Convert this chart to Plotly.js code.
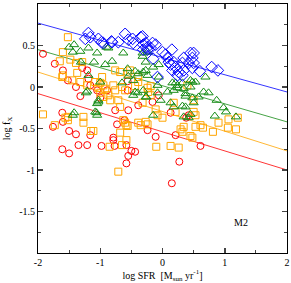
<!DOCTYPE html>
<html><head><meta charset="utf-8">
<script src="https://cdn.plot.ly/plotly-3.0.1.min.js"></script>
<style>html,body{margin:0;padding:0;background:#fff}</style>
</head><body><div id="chart" style="width:291px;height:283px"></div>
<script>
// ---- data (log SFR, log f_X) ----
const blueX = [-1.19,-1.24,-1.16,-1.03,-0.98,-0.95,-0.82,-0.81,-0.71,-0.60,-0.55,-0.48,-0.47,-0.35,-0.31,-0.32,-0.27,-0.24,-0.24,-0.16,-0.11,-0.19,-0.31,0.00,0.05,0.15,0.08,-0.15,0.10,0.18,0.13,0.21,0.32,0.34,0.45,0.50,0.48,0.42,0.50,0.48,0.60,0.16,0.26,0.32,0.34,0.79,0.89,-0.08,0.24];
const blueY = [0.65,0.58,0.60,0.58,0.54,0.53,0.55,0.54,0.54,0.64,0.57,0.58,0.53,0.60,0.51,0.61,0.53,0.48,0.45,0.53,0.51,0.47,0.45,0.42,0.39,0.45,0.35,0.34,0.30,0.30,0.27,0.24,0.29,0.35,0.41,0.41,0.35,0.29,0.29,0.23,0.19,0.20,0.18,0.14,0.20,0.24,0.20,0.12,0.14];

const greenX = [-1.50,-1.44,-1.42,-1.32,-1.19,-1.05,-0.90,-0.87,-0.63,-0.32,-1.31,-1.10,-0.92,-0.81,-0.56,-0.44,-0.31,-0.55,-0.47,-0.65,-0.44,-0.47,-0.31,-0.26,-1.21,-1.03,-1.08,-1.05,-1.44,-1.19,-1.00,-0.39,-1.05,-0.24,-0.32,-0.27,-0.06,-0.15,-0.27,-0.24,-0.06,0.16,0.24,0.18,0.34,0.45,0.53,0.69,0.74,0.87,0.37,0.48,-0.08,-0.03,-0.27,0.13,0.18,0.32,0.98,1.02,1.18,-0.15,0.34,0.84,0.42,-0.40,-0.08,0.08,0.24,0.37,0.48,0.66,0.58,0.37,0.50,0.45,0.45,0.21,0.32,-1.23,-1.42,-1.06,-1.03];
const greenY = [0.48,0.42,0.51,0.43,0.47,0.41,0.48,0.47,0.41,0.41,0.30,0.30,0.27,0.31,0.22,0.19,0.18,0.13,0.08,0.05,-0.06,-0.10,-0.04,-0.12,-0.05,-0.16,-0.30,-0.34,-0.34,0.14,0.06,0.16,-0.20,0.42,0.37,0.30,0.27,0.24,0.20,0.14,0.12,0.05,-0.01,-0.04,-0.02,0.08,0.06,0.12,-0.07,-0.16,-0.11,-0.13,-0.07,-0.16,-0.12,-0.19,-0.24,-0.23,-0.25,-0.30,-0.36,-0.34,-0.36,-0.35,-0.37,-0.07,0.02,-0.06,0.02,-0.08,0.06,-0.06,-0.12,-0.24,-0.19,-0.33,0.00,0.05,0.05,-0.07,-0.31,-0.31,-0.18];

const orangeX = [-1.52,-1.60,-1.65,-1.48,-1.39,-1.29,-1.60,-1.61,-1.45,-1.37,-1.32,-1.21,-1.08,-1.00,-0.95,-1.03,-0.92,-1.00,-0.95,-0.87,-0.79,-0.76,-0.76,-0.68,-0.56,-0.52,-0.44,-0.39,-0.65,-0.60,-0.84,-1.92,-1.73,-1.56,-1.52,-0.60,-0.56,-0.35,-0.24,-0.71,-0.68,-0.97,-0.24,-0.19,-0.23,-0.11,0.00,0.18,0.50,0.50,0.40,0.21,0.61,0.65,0.90,1.06,1.21,1.18,0.34,0.29,0.45,0.48,-0.39,-0.19,-0.32,-0.08,-0.39,-0.27,0.32,0.53,0.81,1.05,0.53,-1.27,-1.27,-1.52,-1.15,-0.63,-0.58,-1.11,-0.68,-0.58,-0.85,-0.65,-0.71,-0.10,0.13,0.26];
const orangeY = [0.60,0.42,0.31,0.33,0.29,0.30,0.14,0.12,0.08,0.17,0.06,0.02,0.06,0.05,0.02,-0.01,-0.02,-0.07,-0.12,-0.10,0.02,-0.04,0.20,0.18,0.16,0.20,0.01,0.06,0.00,-0.04,-0.16,-0.33,-0.46,-0.37,-0.36,-0.43,-0.47,-0.46,-0.45,-0.16,-0.24,0.12,-0.01,0.01,-0.06,-0.27,-0.37,-0.19,-0.16,-0.30,0.02,-0.30,-0.46,-0.49,-0.43,-0.39,-0.37,-0.51,-0.48,-0.51,-0.59,-0.61,0.12,-0.10,-0.19,-0.34,-0.43,-0.42,-0.54,-0.48,-0.54,-0.49,-0.34,-0.36,-0.43,-0.40,-0.53,-0.40,-0.46,-0.53,-0.55,-0.64,-0.72,-0.70,-1.02,-0.72,-0.71,-0.73];

const redX = [-1.92,-1.73,-1.60,-1.29,-1.21,-1.52,-1.39,-1.32,-1.19,-1.16,-1.05,-1.00,-0.89,-0.76,-0.55,-0.39,-0.56,-0.56,-1.61,-1.60,-1.76,-1.50,-1.39,-1.16,-0.73,-0.61,-0.79,-0.16,-0.06,0.13,0.42,0.38,-0.11,0.21,-0.24,-1.61,-1.50,-1.35,-1.21,-0.98,-0.77,-0.79,-0.58,-0.50,-0.44,-0.55,-0.58,0.61,0.27,0.15];
const redY = [0.40,0.28,0.20,0.23,0.20,0.08,0.00,-0.11,0.10,0.02,-0.04,-0.13,-0.04,-0.28,-0.28,-0.22,0.07,-0.04,-0.31,-0.42,-0.48,-0.53,-0.57,-0.58,-0.45,-0.40,-0.61,-0.18,-0.10,-0.31,-0.34,-0.37,-0.60,-0.58,-0.52,-0.75,-0.80,-0.70,-0.70,-0.71,-0.71,-0.64,-0.70,-0.77,-0.78,-0.83,-0.92,-0.71,-0.90,-1.16];

// fitted relations (endpoints at the axis limits)
const fitX = [-2, 2];
const blueFit = [0.77, -0.06];
const greenFit = [0.45, -0.42];
const orangeFit = [0.18, -0.77];
const redFit = [-0.08, -1.00];

const xTickVals = [-2, -1, 0, 1, 2];
const xTickText = ["-2", "-1", "0", "1", "2"];
const yTickVals = [-1.5, -1, -0.5, 0, 0.5, 1];
const yTickText = ["-1.5", "-1", "-0.5", "0", "0.5", "1"];

const BLUE = "#0000ff", GREEN = "#168c16", ORANGE = "#ffa500", RED = "#ff0000";

function pts(x, y, sym, col, size) {
  return {x: x, y: y, type: "scatter", mode: "markers",
    marker: {symbol: sym, size: size, color: col, line: {color: col, width: 1}},
    hoverinfo: "skip", showlegend: false};
}
function fit(y, col) {
  return {x: fitX, y: y, type: "scatter", mode: "lines",
    line: {color: col, width: 0.8}, hoverinfo: "skip", showlegend: false};
}

const data = [
  fit(blueFit, BLUE), fit(greenFit, GREEN), fit(orangeFit, ORANGE), fit(redFit, RED),
  pts(redX, redY, "circle-open", RED, 7),
  pts(orangeX, orangeY, "square-open", ORANGE, 7),
  pts(greenX, greenY, "triangle-up-open", GREEN, 8),
  pts(blueX, blueY, "diamond-open", BLUE, 9)
];

const fontS = {family: "Liberation Serif, Times New Roman, serif", size: 10, color: "#000"};

const layout = {
  width: 291, height: 283,
  margin: {l: 38, r: 4, t: 4, b: 30},
  paper_bgcolor: "#fff", plot_bgcolor: "#fff",
  font: fontS,
  xaxis: {
    range: [-2, 2], tickvals: xTickVals, ticktext: xTickText,
    ticks: "inside", ticklen: 5, tickwidth: 1.5, tickcolor: "#444",
    minor: {dtick: 0.5, ticks: "inside", ticklen: 3, tickwidth: 1, tickcolor: "#444"},
    showline: true, linecolor: "#000", linewidth: 1, mirror: "ticks",
    showgrid: false, zeroline: false, tickfont: fontS,
    title: {text: "log SFR  [M<sub>sun</sub> yr<sup>-1</sup>]", font: fontS, standoff: 4}
  },
  yaxis: {
    range: [-2, 1], tickvals: yTickVals, ticktext: yTickText,
    ticks: "inside", ticklen: 5, tickwidth: 1.5, tickcolor: "#444",
    minor: {dtick: 0.25, ticks: "inside", ticklen: 3, tickwidth: 1, tickcolor: "#444"},
    showline: true, linecolor: "#000", linewidth: 1, mirror: "ticks",
    showgrid: false, zeroline: false, tickfont: fontS,
    title: {text: "log f<sub>X</sub>", font: fontS, standoff: 6}
  },
  annotations: [{x: 1.26, y: -1.63, xref: "x", yref: "y", text: "M2", showarrow: false,
    font: {family: "Liberation Serif, Times New Roman, serif", size: 10, color: "#000"}}]
};

Plotly.newPlot("chart", data, layout, {staticPlot: true, displayModeBar: false});
</script>
</body></html>
